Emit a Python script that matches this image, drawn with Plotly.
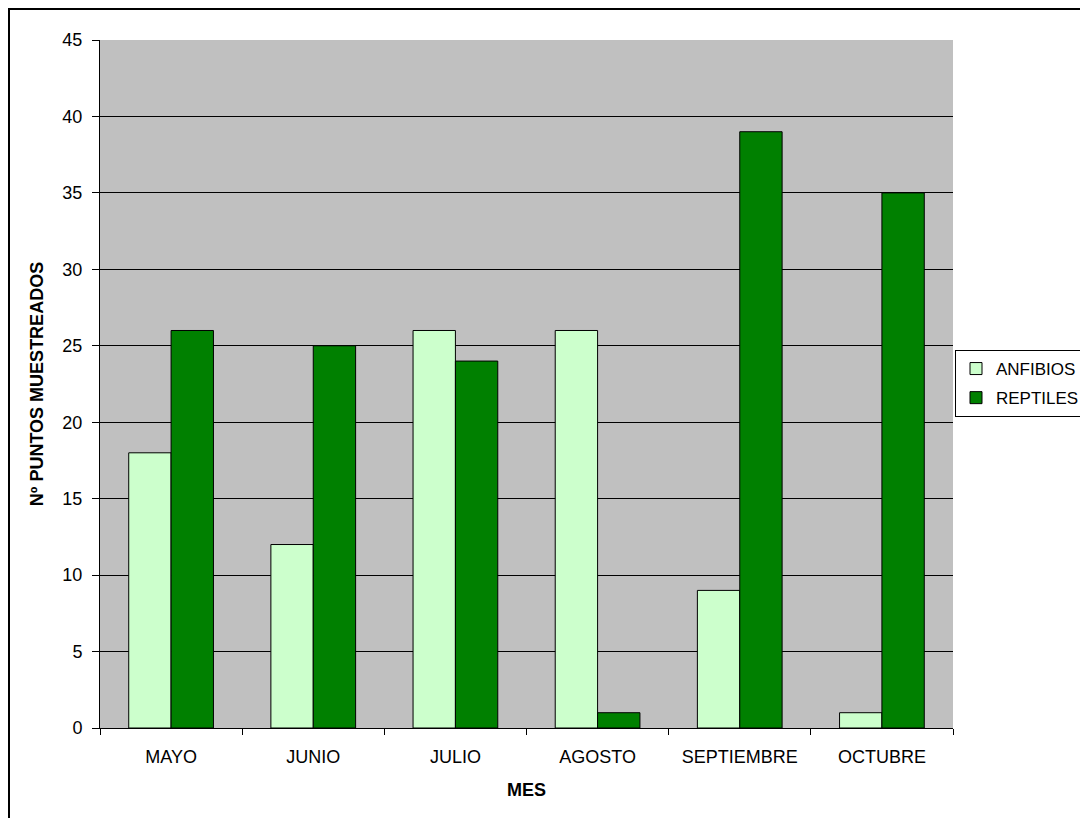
import plotly.graph_objects as go

meses = ["MAYO", "JUNIO", "JULIO", "AGOSTO", "SEPTIEMBRE", "OCTUBRE"]
anfibios = [18, 12, 26, 26, 9, 1]
reptiles = [26, 25, 24, 1, 39, 35]

# page body adds an 8px offset; figure coords = screen - 8
W, H = 1080, 810
L, R, T, B = 92, 135, 32, 90
pw, ph = W - L - R, H - T - B

fig = go.Figure()
fig.add_trace(go.Bar(x=meses, y=anfibios, name="ANFIBIOS", legendgroup="a",
                     marker=dict(color="#CCFFCC", line=dict(color="black", width=1))))
fig.add_trace(go.Bar(x=meses, y=reptiles, name="REPTILES", legendgroup="b",
                     marker=dict(color="#008000", line=dict(color="black", width=1))))

font = "Liberation Sans, Arial, sans-serif"
fig.update_layout(
    width=W, height=H,
    margin=dict(l=L, r=R, t=T, b=B, pad=0, autoexpand=False),
    paper_bgcolor="white", plot_bgcolor="#C0C0C0",
    barmode="group", bargap=0.404, bargroupgap=0,
    font=dict(family=font, size=18, color="black"),
    showlegend=True,
    legend=dict(xref="container", yref="container", x=947 / W, y=1 - 342 / H,
                xanchor="left", yanchor="top",
                bordercolor="black", borderwidth=1, bgcolor="white",
                font=dict(size=17), tracegroupgap=4, itemwidth=30),
    xaxis=dict(title=dict(text="<b>MES</b>", font=dict(size=18), standoff=17),
               showgrid=False, ticks="outside", ticklen=6, tickcolor="black",
               tickson="boundaries", showline=True, linecolor="black", linewidth=1,
               tickfont=dict(size=18), ticklabelstandoff=12),
    yaxis=dict(title=dict(text="<b>Nº PUNTOS MUESTREADOS</b>", font=dict(size=18), standoff=14),
               range=[0, 45], dtick=5, showgrid=True, gridcolor="black", gridwidth=1,
               ticks="outside", ticklen=7, tickcolor="black", showline=True,
               linecolor="black", linewidth=1, zeroline=False, tickfont=dict(size=18),
               ticklabelstandoff=6),
)

fig.add_shape(type="rect", xref="paper", yref="paper",
              x0=(1 - L) / pw, x1=(1100 - L) / pw,
              y0=(H - B - 830) / ph, y1=(H - B - 1) / ph,
              line=dict(color="black", width=2), fillcolor="rgba(0,0,0,0)", layer="below")

fig.write_html("out.html")
